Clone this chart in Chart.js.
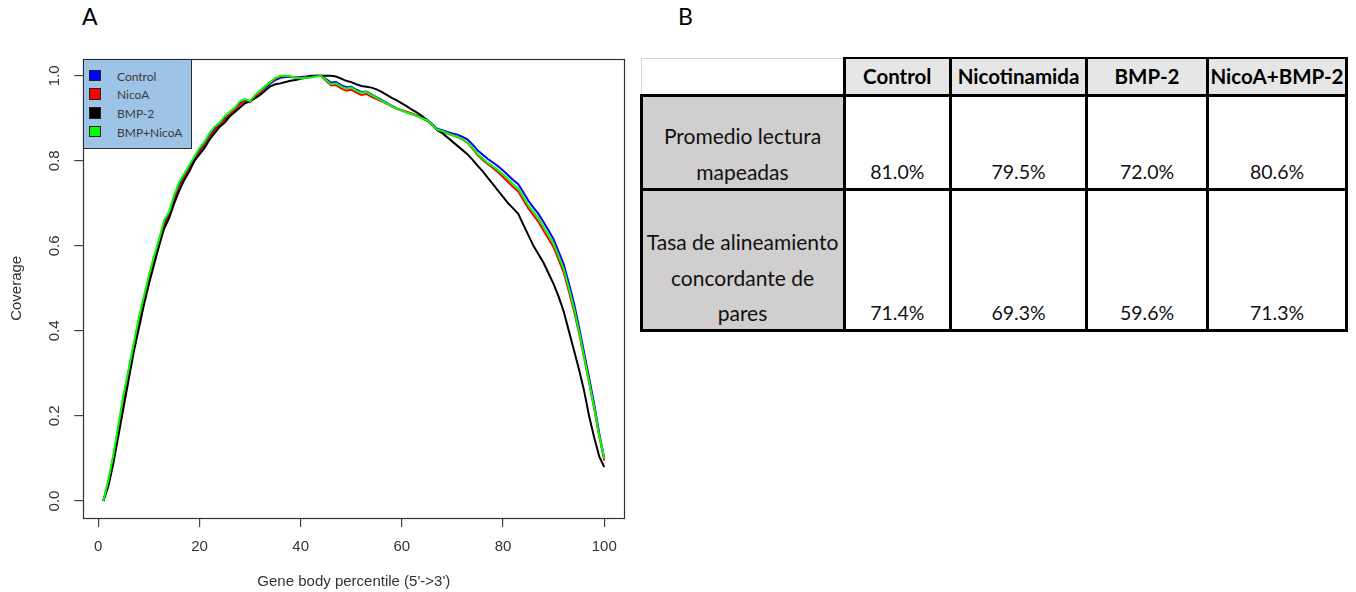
<!DOCTYPE html>
<html>
<head>
<meta charset="utf-8">
<script src="https://cdn.jsdelivr.net/npm/chart.js@4/dist/chart.umd.min.js"></script>
<style>
  html, body { margin: 0; padding: 0; background: #fff; }
  body { width: 1356px; height: 592px; position: relative; overflow: hidden; font-family: Lato, "Liberation Sans", sans-serif; }
  #chartBox { position: absolute; left: 0; top: 0; width: 660px; height: 592px; }
  .panel { position: absolute; font-family: Lato, sans-serif; font-size: 23px; line-height: 23px; color: #000; }
  #legend { position: absolute; left: 83px; top: 59px; width: 109px; height: 90px; box-sizing: border-box;
            background: #9dc3e6; border: 1.5px solid #2b2b2b; }
  .lg-item { position: absolute; left: 0; height: 14px; width: 105px; }
  .lg-sw { position: absolute; left: 5px; top: 1px; width: 11.5px; height: 11.5px; box-sizing: border-box; border: 1.5px solid #222; }
  .lg-tx { position: absolute; left: 33px; top: 0; font-family: Lato, sans-serif; font-size: 12px; line-height: 15px; color: #3a3a3a; white-space: nowrap; }
  .cell { position: absolute; box-sizing: border-box; display: flex; flex-direction: column; align-items: center; justify-content: flex-end;
          font-family: Lato, sans-serif; font-size: 19.5px; line-height: 35.5px; color: #111; text-align: center; white-space: nowrap; }
  .hdr { justify-content: center; font-weight: bold; font-size: 20.5px; color: #000; background: #e7e6e6; }
  .lbl { background: #d0cece; font-size: 21px; }
  .ln { position: absolute; background: #000; }
</style>
</head>
<body>
<div class="panel" style="left:82px; top:5px;">A</div>
<div class="panel" style="left:678px; top:5px;">B</div>
<div id="chartBox"><canvas id="c" width="660" height="592"></canvas></div>
<div id="legend"></div>
<div id="table"></div>
<script>
// ---------- data ----------
const percentiles = [1,2,3,4,5,6,7,8,9,10,11,12,13,14,15,16,17,18,19,20,21,22,23,24,25,26,27,28,29,30,31,32,33,34,35,36,37,38,39,40,41,42,43,44,45,46,47,48,49,50,51,52,53,54,55,56,57,58,59,60,61,62,63,64,65,66,67,68,69,70,71,72,73,74,75,76,77,78,79,80,81,82,83,84,85,86,87,88,89,90,91,92,93,94,95,96,97,98,99,100];

const controlCov = [0.00,0.045,0.105,0.175,0.245,0.305,0.365,0.425,0.475,0.525,0.57,0.61,0.652,0.675,0.715,0.745,0.765,0.785,0.805,0.825,
0.84,0.86,0.875,0.887,0.90,0.912,0.922,0.935,0.943,0.94,0.952,0.962,0.972,0.982,0.99,0.995,0.997,0.997,0.996,0.997,
0.998,1.00,1.00,1.00,0.992,0.984,0.985,0.978,0.973,0.974,0.967,0.962,0.963,0.956,0.949,0.943,0.936,0.929,0.923,0.918,
0.914,0.91,0.906,0.901,0.896,0.886,0.875,0.872,0.868,0.864,0.861,0.856,0.85,0.838,0.824,0.814,0.804,0.796,0.787,0.777,
0.766,0.755,0.745,0.726,0.706,0.69,0.675,0.656,0.636,0.615,0.586,0.556,0.512,0.466,0.41,0.35,0.29,0.228,0.16,0.10];

const nicoACov = [0.00,0.04,0.10,0.165,0.235,0.295,0.355,0.41,0.465,0.515,0.56,0.60,0.645,0.67,0.705,0.735,0.76,0.78,0.80,0.82,
0.835,0.855,0.87,0.885,0.895,0.91,0.92,0.932,0.94,0.938,0.95,0.962,0.975,0.985,0.993,0.998,1.00,0.998,0.996,0.995,
0.996,0.997,0.999,1.00,0.988,0.977,0.978,0.97,0.965,0.967,0.96,0.955,0.957,0.95,0.945,0.94,0.934,0.928,0.922,0.919,
0.915,0.911,0.906,0.90,0.894,0.884,0.873,0.869,0.864,0.86,0.856,0.85,0.842,0.828,0.813,0.802,0.792,0.783,0.773,0.762,
0.75,0.738,0.728,0.708,0.688,0.672,0.656,0.636,0.616,0.596,0.567,0.537,0.493,0.448,0.395,0.337,0.278,0.218,0.152,0.095];

const bmp2Cov = [0.00,0.035,0.09,0.155,0.22,0.285,0.35,0.405,0.46,0.51,0.555,0.60,0.64,0.665,0.70,0.73,0.755,0.775,0.80,0.815,
0.83,0.85,0.865,0.88,0.89,0.905,0.915,0.925,0.935,0.94,0.947,0.955,0.965,0.975,0.98,0.982,0.985,0.988,0.99,0.993,
0.995,0.998,1.00,1.00,1.00,1.00,0.998,0.993,0.988,0.985,0.98,0.976,0.974,0.972,0.968,0.962,0.955,0.948,0.942,0.935,
0.928,0.92,0.913,0.905,0.895,0.885,0.872,0.865,0.855,0.845,0.835,0.825,0.815,0.802,0.788,0.775,0.76,0.745,0.73,0.715,
0.70,0.688,0.675,0.65,0.625,0.60,0.58,0.56,0.535,0.51,0.48,0.445,0.40,0.355,0.31,0.26,0.20,0.15,0.105,0.08];

const bmpNicoACov = [0.00,0.05,0.11,0.18,0.25,0.31,0.37,0.43,0.48,0.53,0.575,0.615,0.66,0.68,0.72,0.75,0.77,0.79,0.81,0.83,
0.845,0.865,0.88,0.89,0.905,0.915,0.925,0.94,0.945,0.94,0.955,0.965,0.975,0.985,0.995,1.00,1.00,0.998,0.995,0.994,
0.995,0.996,0.998,1.00,0.99,0.98,0.982,0.975,0.97,0.972,0.965,0.96,0.962,0.955,0.948,0.942,0.935,0.928,0.922,0.918,
0.913,0.91,0.905,0.90,0.895,0.885,0.873,0.87,0.865,0.86,0.857,0.85,0.843,0.83,0.815,0.805,0.795,0.787,0.778,0.768,
0.757,0.745,0.735,0.715,0.695,0.68,0.665,0.645,0.625,0.605,0.575,0.545,0.50,0.455,0.40,0.34,0.28,0.22,0.155,0.10];

const seriesNames = ["Control", "NicoA", "BMP-2", "BMP+NicoA"];
const seriesColors = ["#0000ff", "#ff0000", "#000000", "#00ff00"];
const xTickValues = [0, 20, 40, 60, 80, 100];
const yTickValues = [0, 0.2, 0.4, 0.6, 0.8, 1.0];
const xTitle = "Gene body percentile (5'->3')";
const yTitle = "Coverage";

// table data
const tableCols = ["Control", "Nicotinamida", "BMP-2", "NicoA+BMP-2"];
const tableRowLabels = [["Promedio lectura", "mapeadas"], ["Tasa de alineamiento", "concordante de", "pares"]];
const mappedReads = ["81.0%", "79.5%", "72.0%", "80.6%"];
const concordantPairs = ["71.4%", "69.3%", "59.6%", "71.3%"];

// ---------- chart ----------
const seriesValues = [controlCov, nicoACov, bmp2Cov, bmpNicoACov];
const datasets = seriesValues.map((vals, k) => ({
  label: seriesNames[k],
  data: percentiles.map((p, i) => ({ x: p, y: vals[i] })),
  borderColor: seriesColors[k],
  backgroundColor: seriesColors[k],
  borderWidth: 2,
  pointRadius: 0,
  tension: 0,
  fill: false,
  order: 4 - k
}));

const axisFont = { family: "'Liberation Sans', Arial, sans-serif", size: 15 };

const boxPlugin = {
  id: 'box',
  afterDraw(chart) {
    const { ctx, chartArea: a } = chart;
    ctx.save();
    ctx.strokeStyle = '#333';
    ctx.lineWidth = 1.2;
    ctx.strokeRect(Math.round(a.left) + 0.5, Math.round(a.top) + 0.5, Math.round(a.right - a.left), Math.round(a.bottom - a.top));
    ctx.restore();
  }
};

new Chart(document.getElementById('c'), {
  type: 'line',
  data: { datasets },
  options: {
    responsive: false,
    animation: false,
    events: [],
    layout: { padding: { left: 0, top: 58.7, right: 35.7, bottom: 0 } },
    plugins: { legend: { display: false }, tooltip: { enabled: false } },
    scales: {
      x: {
        type: 'linear', min: -2.96, max: 103.96,
        afterBuildTicks: s => { s.ticks = xTickValues.map(v => ({ value: v })); },
        afterFit: s => { s.height = 592 - 518; },
        border: { display: false },
        grid: { drawOnChartArea: false, drawTicks: true, tickLength: 9, color: '#444', lineWidth: 1.2 },
        ticks: { autoSkip: false, maxRotation: 0, padding: 11, color: '#333', font: axisFont, callback: v => String(v) },
        title: { display: true, text: xTitle, color: '#333', font: axisFont, padding: { top: 0, bottom: 1 } }
      },
      y: {
        type: 'linear', min: -0.04, max: 1.04,
        afterBuildTicks: s => { s.ticks = yTickValues.map(v => ({ value: v })); },
        afterFit: s => { s.width = 83.3; },
        border: { display: false },
        grid: { drawOnChartArea: false, drawTicks: true, tickLength: 9, color: '#444', lineWidth: 1.2 },
        ticks: { autoSkip: false, minRotation: 90, maxRotation: 90, crossAlign: 'center', padding: 9,
                 color: '#333', font: axisFont, callback: v => Number(v).toFixed(1) },
        title: { display: true, text: yTitle, color: '#333', font: axisFont, padding: { top: 8, bottom: 0 } }
      }
    }
  },
  plugins: [boxPlugin]
});

// ---------- legend (HTML overlay) ----------
const legendEl = document.getElementById('legend');
const legendRowTops = [8.5, 27.2, 46, 64.7];
seriesNames.forEach((name, k) => {
  const it = document.createElement('div');
  it.className = 'lg-item';
  it.style.top = legendRowTops[k] + 'px';
  it.innerHTML = '<div class="lg-sw" style="background:' + seriesColors[k] + '"></div><div class="lg-tx"></div>';
  it.querySelector('.lg-tx').textContent = name;
  legendEl.appendChild(it);
});

// ---------- table (HTML) ----------
const tbl = document.getElementById('table');
const colX = [641, 844, 950.5, 1086.5, 1207.5, 1346.5];
const rowY = [58, 95.5, 189, 330.5];
function addCell(x0, y0, x1, y1, cls, lines, padBottom) {
  const d = document.createElement('div');
  d.className = 'cell ' + cls;
  d.style.left = x0 + 'px'; d.style.top = y0 + 'px';
  d.style.width = (x1 - x0) + 'px'; d.style.height = (y1 - y0) + 'px';
  if (padBottom !== undefined) d.style.paddingBottom = padBottom + 'px';
  lines.forEach(t => { const s = document.createElement('div'); s.textContent = t; d.appendChild(s); });
  tbl.appendChild(d);
}
function addLine(x, y, w, h, color) {
  const d = document.createElement('div');
  d.className = 'ln';
  d.style.left = x + 'px'; d.style.top = y + 'px'; d.style.width = w + 'px'; d.style.height = h + 'px';
  if (color) d.style.background = color;
  tbl.appendChild(d);
}
// header
tableCols.forEach((c, j) => addCell(colX[j + 1], rowY[0], colX[j + 2], rowY[1], 'hdr', [c]));
// body rows
const bodyVals = [mappedReads, concordantPairs];
bodyVals.forEach((vals, r) => {
  addCell(colX[0], rowY[r + 1], colX[1], rowY[r + 2], 'lbl', tableRowLabels[r], 0);
  vals.forEach((v, j) => addCell(colX[j + 1], rowY[r + 1], colX[j + 2], rowY[r + 2], '', [v], 0));
});
// grid lines
addLine(colX[0] - 0.5, rowY[0] - 0.5, colX[1] - colX[0], 1.5, '#d4d4d4');
addLine(colX[0] - 0.5, rowY[0] - 0.5, 1.5, rowY[1] - rowY[0], '#d4d4d4');
addLine(colX[1] - 1.5, rowY[0] - 1.5, colX[5] - colX[1] + 3, 2.5);
[rowY[1], rowY[2], rowY[3]].forEach(y => addLine(colX[0] - 1.5, y - 1.5, colX[5] - colX[0] + 3, 3));
addLine(colX[0] - 1.5, rowY[1], 3, rowY[3] - rowY[1]);
colX.slice(1).forEach(x => addLine(x - 1.5, rowY[0] - 1.5, 3, rowY[3] - rowY[0] + 3));
</script>
</body>
</html>
